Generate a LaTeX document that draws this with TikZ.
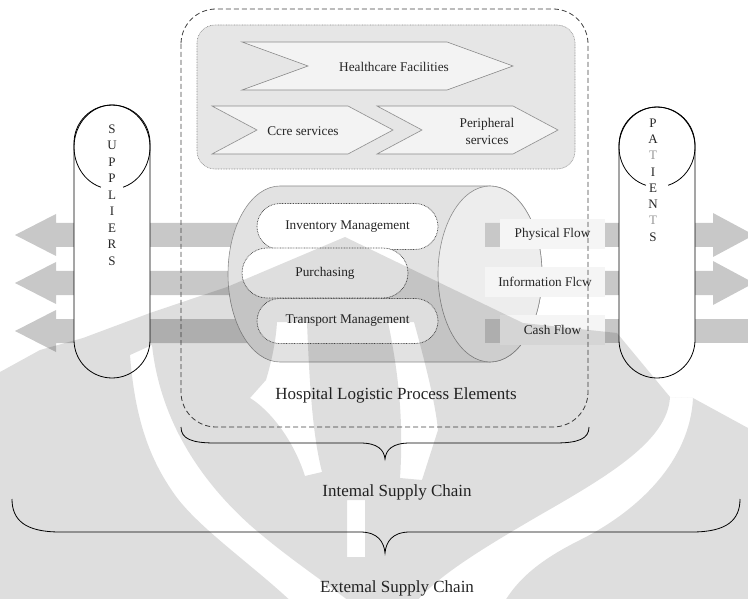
\documentclass[tikz,border=0pt]{standalone}
\usepackage{fontspec}
\setmainfont{Liberation Serif}
\usetikzlibrary{shapes.misc}

\definecolor{arrowgrey}{HTML}{C8C8C8}
\definecolor{panelgrey}{HTML}{E6E6E6}
\definecolor{chevfill}{HTML}{F3F3F3}
\definecolor{edgegrey}{HTML}{8C8C8C}
\definecolor{bodygrey}{HTML}{E2E2E2}
\definecolor{facegrey}{HTML}{EDEDED}
\definecolor{ink}{HTML}{262626}

\tikzset{
  lbl/.style={font=\fontsize{13.3}{17}\selectfont, text=ink, inner sep=0pt},
  biglbl/.style={font=\fontsize{17}{20}\selectfont, text=ink, inner sep=0pt},
  chev/.style={draw=edgegrey, fill=chevfill, line width=0.6pt},
  pill/.style={rounded rectangle, draw=black!70, dash pattern=on 0.8pt off 0.8pt,
               line width=0.7pt, fill=white, lbl},
  flowbox/.style={rectangle, fill=white!96!black, lbl},
  column/.style={draw=black, line width=0.8pt, fill=white},
  letters/.style={font=\fontsize{13}{16.5}\selectfont, text=ink, inner sep=0pt, align=center},
  brace/.style={draw=black, line width=0.8pt},
}

\begin{document}
\begin{tikzpicture}[x=1pt,y=-1pt]
\path[use as bounding box] (0,0) rectangle (748,599);
\clip (0,0) rectangle (748,599);

% flows leaving towards the suppliers
\foreach \c in {235,283,331} {
  \fill[arrowgrey] (250,\c-12) -- (56,\c-12) -- (56,\c-21) -- (15,\c)
        -- (56,\c+21) -- (56,\c+12) -- (250,\c+12) -- cycle;
}

% the logistic process cylinder
\draw[draw=edgegrey, fill=bodygrey, line width=0.6pt]
  (280,186) -- (490,186) arc[start angle=-90, end angle=90, x radius=52, y radius=88]
  -- (280,362) arc[start angle=90, end angle=270, x radius=52, y radius=88] -- cycle;
\draw[draw=edgegrey, fill=facegrey, line width=0.6pt] (490,274) ellipse[x radius=52, y radius=88];

% flows going towards the patients
\foreach \c in {235,283} {
  \fill[arrowgrey] (485,\c-12) -- (713,\c-12) -- (713,\c-22) -- (754,\c)
        -- (713,\c+22) -- (713,\c+12) -- (485,\c+12) -- cycle;
}
\fill[arrowgrey] (485,319) rectangle (760,343);

\node[flowbox, minimum width=105pt, minimum height=30pt] (phys) at (552.5,234) {Physical Flow};
\node[flowbox, minimum width=120pt, minimum height=30pt] (info) at (545,282) {Information Flcw};
\node[flowbox, minimum width=105pt, minimum height=30pt] (cash) at (552.5,330) {Cash Flow};

% process elements inside the cylinder
\node[pill, minimum width=181pt, minimum height=46pt] (inv) at (347.5,226.5) {Inventory Management};
\node[pill, minimum width=181pt, minimum height=45pt] (tra) at (347.5,321) {Transport Management};
\node[pill, minimum width=166pt, minimum height=50pt] (pur) at (325,273) {Purchasing};

% healthcare facilities panel
\draw[draw=edgegrey, dash pattern=on 0.8pt off 0.8pt, fill=panelgrey, line width=0.6pt,
      rounded corners=18pt] (197,25) rectangle (575,169);
\draw[chev] (242,42) -- (447,42) -- (513,66) -- (447,90) -- (242,90) -- (308,66) -- cycle;
\node[lbl] (hcf) at (394,67) {Healthcare Facilities};
\draw[chev] (212,106) -- (348,106) -- (393,130) -- (348,154) -- (212,154) -- (257,130) -- cycle;
\node[lbl] (core) at (303,131) {Ccre services};
\draw[chev] (377,106) -- (513,106) -- (558,130) -- (513,154) -- (377,154) -- (422,130) -- cycle;
\node[lbl, align=center] (peri) at (487,131) {Peripheral\\services};

% hospital boundary
\draw[draw=black!75, dash pattern=on 5pt off 3pt, line width=0.8pt, rounded corners=35pt]
  (181,9) rectangle (588,427);
\node[biglbl] (hlpe) at (396,395) {Hospital Logistic Process Elements};

% suppliers and patients columns
\draw[column, rounded corners=38pt] (74,105) rectangle (150,378);
\draw[line width=0.8pt] (100.9,187.2) arc[start angle=107, end angle=433, x radius=38, y radius=42];
\node[letters] (sup) at (112,195) {S\\U\\P\\P\\L\\I\\E\\R\\S};

\draw[column, rounded corners=38pt] (619,107) rectangle (695,378);
\draw[line width=0.8pt] (645.9,185.3) arc[start angle=107, end angle=433, x radius=38, y radius=40];
\node[letters, font=\fontsize{13}{16.3}\selectfont] (pat) at (653,180)
  {P\\A\\\textcolor{black!40}{T}\\I\\E\\N\\\textcolor{black!40}{T}\\S};

% supply chain braces
\draw[brace] (181,427) .. controls (181,439) and (192,443) .. (215,443) -- (360,443)
  .. controls (378,443) and (384,450) .. (385,459)
  .. controls (386,450) and (392,443) .. (410,443) -- (555,443)
  .. controls (578,443) and (589,439) .. (589,427);
\node[biglbl] (isc) at (397,492) {Intemal Supply Chain};

\draw[brace] (12,499) .. controls (12,520) and (25,532) .. (60,532) -- (360,532)
  .. controls (378,532) and (384,542) .. (385,553)
  .. controls (386,542) and (392,532) .. (410,532) -- (692,532)
  .. controls (727,532) and (740,520) .. (740,499);
\node[biglbl] (esc) at (397,588) {Extemal Supply Chain};

% faint university emblem printed over the page
\fill[black, fill opacity=0.13, even odd rule]
  (0,372) -- (40,350) -- (83,338) -- (150,313) -- (227,287) -- (345,237) -- (523,323)
  -- (617,333) -- (670,397) -- (693,398) -- (748,428) -- (748,610) -- (0,610) -- cycle
  (130,355) -- (152,345) .. controls (160,420) and (200,480) .. (250,525)
  .. controls (290,560) and (330,585) .. (360,610) -- (300,610)
  .. controls (260,570) and (200,530) .. (175,495)
  .. controls (150,460) and (135,420) .. (130,355) -- cycle
  (670,397) -- (693,398) .. controls (690,460) and (640,510) .. (580,540)
  .. controls (540,560) and (515,580) .. (500,610) -- (410,610)
  .. controls (430,580) and (480,550) .. (540,515)
  .. controls (610,475) and (668,440) .. (670,397) -- cycle
  (347,500) rectangle (365,557)
  (277,322) -- (307,322) .. controls (310,400) and (314,440) .. (322,472) -- (305,476)
  .. controls (290,430) and (262,405) .. (250,398) -- (266,380)
  .. controls (272,360) and (276,340) .. (277,322) -- cycle
  (388,322) -- (414,322) .. controls (430,380) and (436,410) .. (438,430) -- (422,480)
  -- (400,478) .. controls (404,420) and (398,370) .. (388,322) -- cycle;
\end{tikzpicture}
\end{document}
